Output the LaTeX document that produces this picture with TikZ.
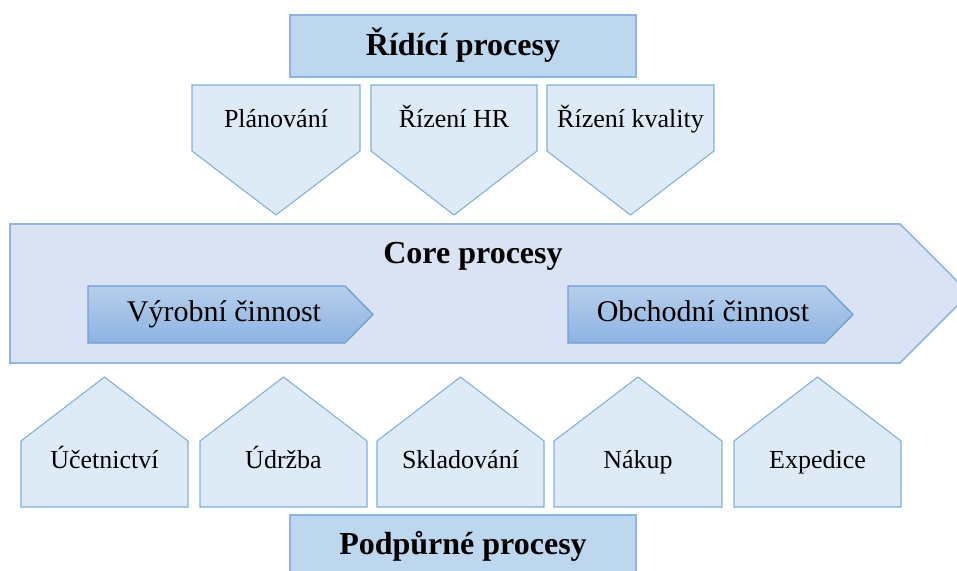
\documentclass[tikz,border=0pt]{standalone}
\usepackage{fontspec}
\setmainfont{Liberation Serif}
\begin{document}
\begin{tikzpicture}[x=0.75pt,y=-0.75pt]
  \definecolor{headfill}{HTML}{BDD7EE}
  \definecolor{headline}{HTML}{8EB4E3}
  \definecolor{boxfill}{HTML}{DEEAF6}
  \definecolor{boxline}{HTML}{7EB0DF}
  \definecolor{corefill}{HTML}{DAE3F3}
  \definecolor{coreline}{HTML}{8FB5E2}
  \definecolor{arrowtop}{HTML}{B6CEEB}
  \definecolor{arrowbot}{HTML}{8DB3E2}
  \definecolor{arrowline}{HTML}{6E9FD6}
  \tikzset{
    header/.style={draw=headline, fill=headfill, line width=1.5pt},
    headtext/.style={font=\bfseries\fontsize{24}{28}\selectfont, anchor=base},
    procbox/.style={draw=boxline, fill=boxfill, line width=0.8pt, line join=miter},
    proctext/.style={font=\fontsize{19.5}{23}\selectfont, anchor=base},
    corebox/.style={draw=coreline, fill=corefill, line width=1.2pt},
    subarrow/.style={draw=arrowline, top color=arrowtop, bottom color=arrowbot, line width=1pt},
    subtext/.style={font=\fontsize{22.5}{26}\selectfont, anchor=base}
  }
  \clip (0,0) rectangle (957,571);

  % management processes
  \draw[header] (290,15) rectangle (636,77);
  \node[headtext] (ridici) at (463,55) {Řídící procesy};

  \foreach \l/\r/\t/\n in {192/360/Plánování/plan, 371/537/Řízení HR/hr, 547/714/Řízení kvality/kvalita}{
    \draw[procbox] (\l,85) -- (\r,85) -- (\r,151) -- ({(\l+\r)/2},215) -- (\l,151) -- cycle;
    \node[proctext] (\n) at ({(\l+\r)/2},127) {\t};
  }

  % core processes
  \draw[corebox] (10,224) -- (900,224) -- (969.5,293.5) -- (900,363) -- (10,363) -- cycle;
  \node[headtext] (core) at (473,263) {Core procesy};

  \draw[subarrow] (88,286) -- (345,286) -- (373,314.5) -- (345,343) -- (88,343) -- cycle;
  \node[subtext] (vyroba) at (224,321) {Výrobní činnost};
  \draw[subarrow] (568,286) -- (825,286) -- (853,314.5) -- (825,343) -- (568,343) -- cycle;
  \node[subtext] (obchod) at (703,321) {Obchodní činnost};

  % support processes
  \foreach \l/\r/\t/\n in {21/188/Účetnictví/ucetnictvi, 200/367/Údržba/udrzba, 377/544/Skladování/sklad, 554/722/Nákup/nakup, 734/901/Expedice/expedice}{
    \draw[procbox] (\l,507) -- (\l,441) -- ({(\l+\r)/2},377) -- (\r,441) -- (\r,507) -- cycle;
    \node[proctext] (\n) at ({(\l+\r)/2},468) {\t};
  }

  \draw[header] (290,515) rectangle (636,600);
  \node[headtext] (podpurne) at (463,554) {Podpůrné procesy};
\end{tikzpicture}
\end{document}
